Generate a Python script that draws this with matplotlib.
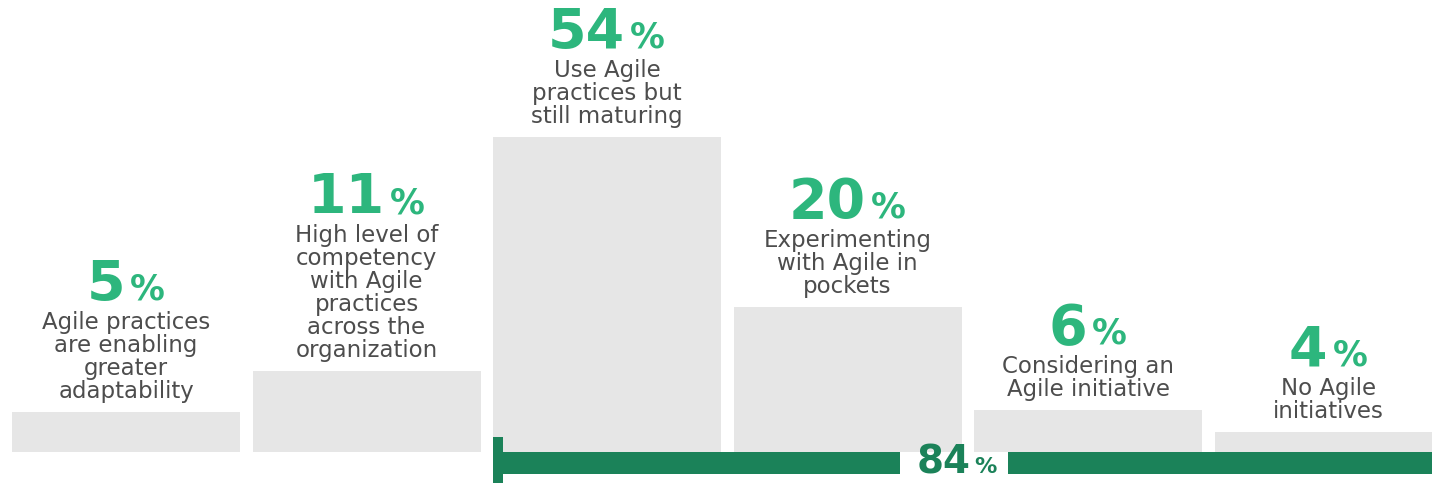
import matplotlib
matplotlib.use('Agg')
import matplotlib.pyplot as plt

# survey shares (label text above each bar)
percents = [5, 11, 54, 20, 6, 4]
labels = [
    'Agile practices\nare enabling\ngreater\nadaptability',
    'High level of\ncompetency\nwith Agile\npractices\nacross the\norganization',
    'Use Agile\npractices but\nstill maturing',
    'Experimenting\nwith Agile in\npockets',
    'Considering an\nAgile initiative',
    'No Agile\ninitiatives',
]
# drawn bar heights (the infographic does not scale bars to the shares)
bar_heights = [40, 81, 315, 145, 42, 20]
bracket_value = 84
bracket_from = 2          # first category inside the 84% bracket

GREY = '#e6e6e6'
GREEN = '#2db67d'
DARK_GREEN = '#1b8259'
TEXT = '#4d4d4d'
FONT = 'DejaVu Sans'

fig = plt.figure(figsize=(14.32, 4.83), dpi=100)
ax = fig.add_axes([0, 0, 1, 1])
ax.set_xlim(-0.524, 5.43)
ax.set_ylim(-31, 452)
ax.axis('off')

width = 0.948
x = list(range(len(percents)))
ax.bar(x, bar_heights, width=width, color=GREY, linewidth=0)

renderer = fig.canvas.get_renderer()
probe = ax.text(0, 0, '%', fontsize=25, fontweight='bold', family=FONT)
pw = probe.get_window_extent(renderer).width
probe.remove()

for xi, h, pct, lab in zip(x, bar_heights, percents, labels):
    t_lab = ax.annotate(lab, xy=(xi, h), xytext=(0, 9), textcoords='offset pixels',
                        ha='center', va='bottom', fontsize=16.5, color=TEXT,
                        family=FONT, linespacing=1.0)
    # number + smaller percent sign, centred together
    t_num = ax.annotate(str(pct), xy=(0.5, 1), xycoords=t_lab,
                        xytext=(-pw / 2 - 3, -1), textcoords='offset pixels',
                        ha='center', va='bottom', fontsize=40, fontweight='bold',
                        color=GREEN, family=FONT)
    ax.annotate('%', xy=(1, 0), xycoords=t_num, xytext=(5, 5),
                textcoords='offset pixels', ha='left', va='bottom',
                fontsize=25, fontweight='bold', color=GREEN, family=FONT)

# 84% bracket under the last four bars, broken around its label
t84 = ax.text(3.51, -11, str(bracket_value), ha='right', va='center', fontsize=28,
              fontweight='bold', color=DARK_GREEN, family=FONT)
p84 = ax.annotate('%', xy=(1, 0), xycoords=t84, xytext=(4, 5), textcoords='offset pixels',
                  ha='left', va='bottom', fontsize=16, fontweight='bold',
                  color=DARK_GREEN, family=FONT)
inv = ax.transData.inverted()
gap_l = inv.transform((t84.get_window_extent(renderer).x0 - 16, 0))[0]
gap_r = inv.transform((p84.get_window_extent(renderer).x1 + 11, 0))[0]
left = bracket_from - width / 2
right = ax.get_xlim()[1]
ax.barh(-11, gap_l - left, left=left, height=22, color=DARK_GREEN, linewidth=0)
ax.barh(-11, right - gap_r, left=gap_r, height=22, color=DARK_GREEN, linewidth=0)
ax.bar(left, 46, bottom=-31, width=0.042, align='edge', color=DARK_GREEN, linewidth=0)

fig.savefig('out.png', dpi=100)
